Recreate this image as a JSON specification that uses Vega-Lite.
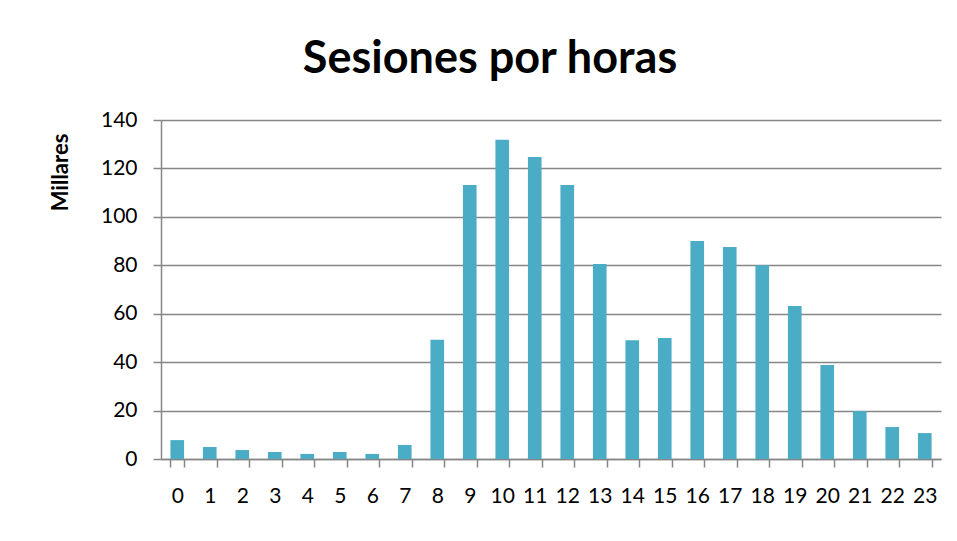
{
  "$schema": "https://vega.github.io/schema/vega-lite/v6.json",
  "width": 780,
  "height": 339,
  "autosize": "none",
  "padding": {"left": 161, "top": 120, "right": 16, "bottom": 82},
  "background": "white",
  "title": {
    "text": "Sesiones por horas",
    "font": "Lato",
    "fontSize": 45,
    "fontWeight": "bold",
    "color": "#000000",
    "anchor": "middle",
    "frame": "group",
    "dx": -61,
    "offset": 27
  },
  "data": {
    "values": [
      {"hora": "0", "sesiones": 7.8},
      {"hora": "1", "sesiones": 5.0},
      {"hora": "2", "sesiones": 3.7},
      {"hora": "3", "sesiones": 2.9},
      {"hora": "4", "sesiones": 2.1},
      {"hora": "5", "sesiones": 2.9},
      {"hora": "6", "sesiones": 2.1},
      {"hora": "7", "sesiones": 5.8},
      {"hora": "8", "sesiones": 49.2},
      {"hora": "9", "sesiones": 113.2},
      {"hora": "10", "sesiones": 131.8},
      {"hora": "11", "sesiones": 124.7},
      {"hora": "12", "sesiones": 113.2},
      {"hora": "13", "sesiones": 80.5},
      {"hora": "14", "sesiones": 49.0},
      {"hora": "15", "sesiones": 50.0},
      {"hora": "16", "sesiones": 90.0},
      {"hora": "17", "sesiones": 87.6},
      {"hora": "18", "sesiones": 80.0},
      {"hora": "19", "sesiones": 63.2},
      {"hora": "20", "sesiones": 38.8},
      {"hora": "21", "sesiones": 19.8},
      {"hora": "22", "sesiones": 13.2},
      {"hora": "23", "sesiones": 10.7}
    ]
  },
  "mark": {"type": "bar", "color": "#4BACC6"},
  "encoding": {
    "x": {
      "field": "hora",
      "type": "ordinal",
      "sort": null,
      "scale": {"paddingInner": 0.58, "paddingOuter": 0.29},
      "axis": {
        "title": null,
        "labelAngle": 0,
        "labelFont": "Lato",
        "labelFontSize": 21,
        "labelColor": "#000000",
        "labelPadding": 18,
        "domainColor": "#868686",
        "domainWidth": 1.5,
        "tickColor": "#868686",
        "tickWidth": 1.5,
        "tickSize": 8,
        "tickBand": "extent",
        "grid": false
      }
    },
    "y": {
      "field": "sesiones",
      "type": "quantitative",
      "scale": {"domain": [0, 140], "nice": false},
      "axis": {
        "title": "Millares",
        "titleFont": "Lato",
        "titleFontSize": 22,
        "titleFontWeight": "bold",
        "titleColor": "#000000",
        "titleAngle": -90,
        "titleX": -101,
        "titleY": 52,
        "titleAlign": "center",
        "titleBaseline": "middle",
        "values": [0, 20, 40, 60, 80, 100, 120, 140],
        "labelFont": "Lato",
        "labelFontSize": 21,
        "labelColor": "#000000",
        "labelPadding": 16,
        "domainColor": "#868686",
        "domainWidth": 1.5,
        "tickColor": "#868686",
        "tickWidth": 1.5,
        "tickSize": 8,
        "grid": true,
        "gridColor": "#868686",
        "gridWidth": 1.5
      }
    }
  },
  "config": {
    "view": {"stroke": null}
  }
}
